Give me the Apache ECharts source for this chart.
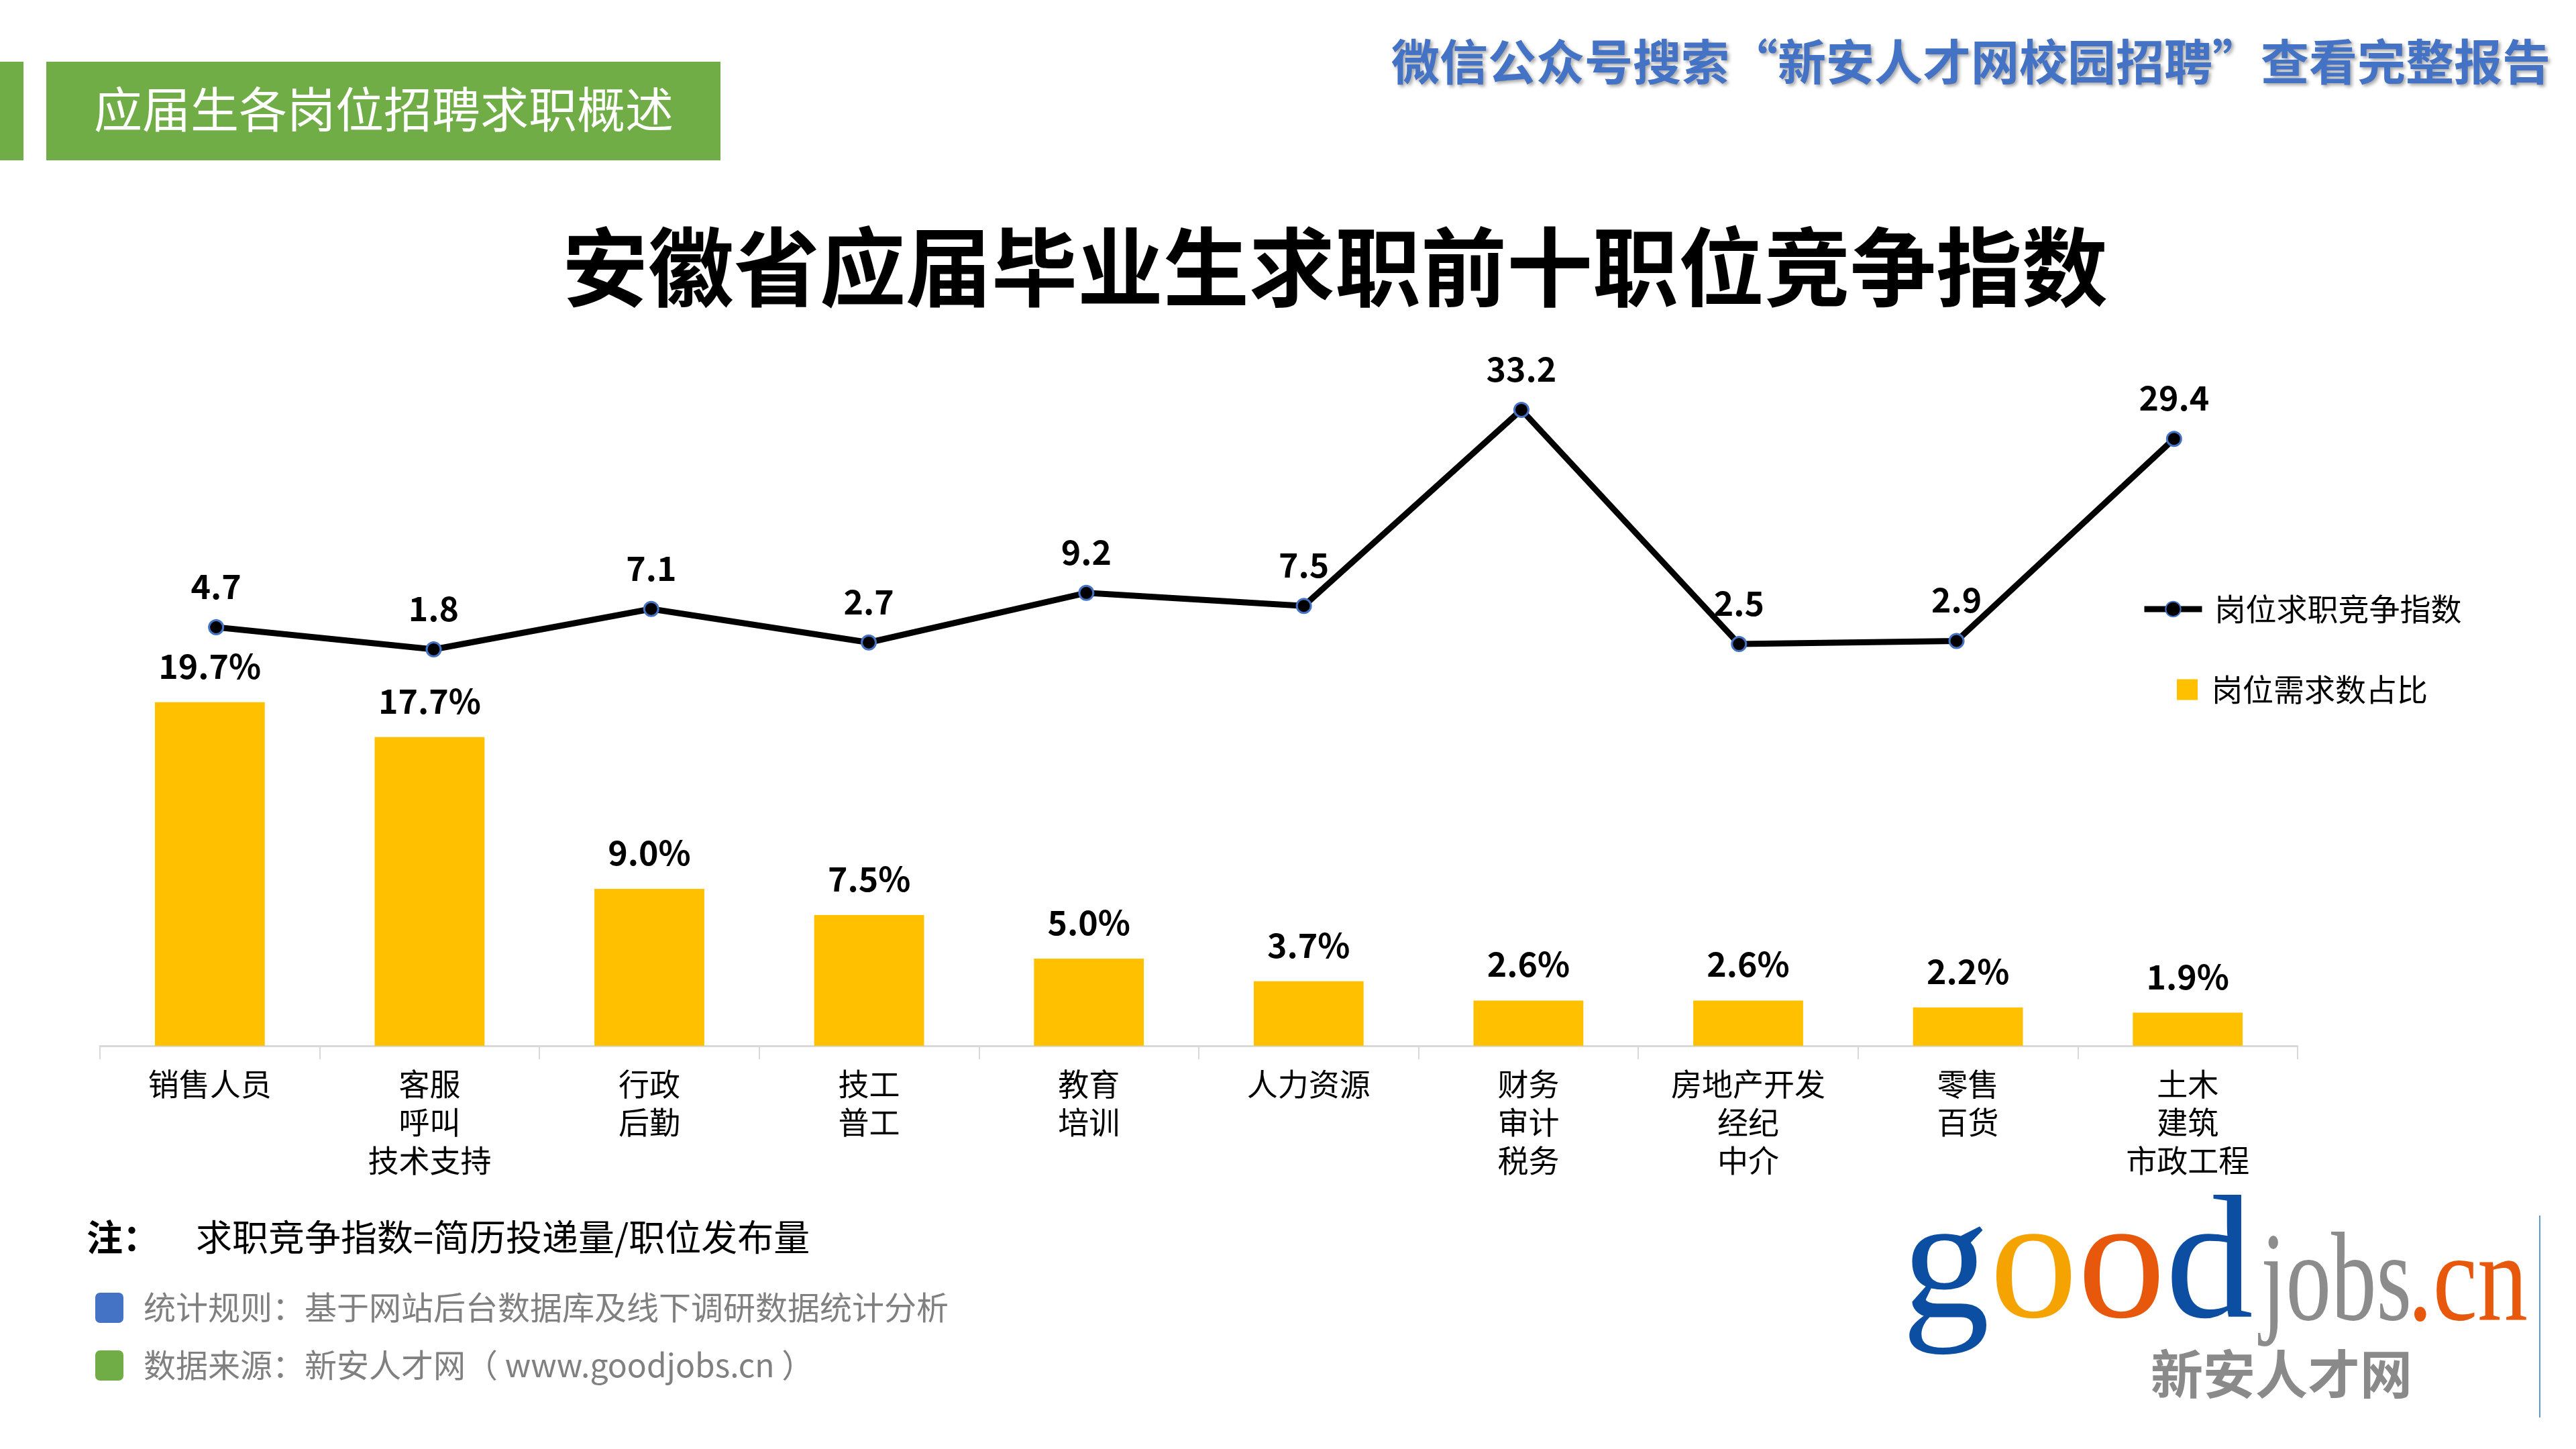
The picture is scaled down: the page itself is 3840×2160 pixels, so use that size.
<!DOCTYPE html>
<html>
<head>
<meta charset="utf-8">
<script src="https://cdn.jsdelivr.net/npm/echarts@6/dist/echarts.min.js"></script>
<style>
html,body{margin:0;padding:0;background:#fff;}
#c{width:3840px;height:2160px;}
</style>
</head>
<body>
<div id="c"></div>
<script>
const categories = ['销售人员', '客服\n呼叫\n技术支持', '行政\n后勤', '技工\n普工', '教育\n培训', '人力资源', '财务\n审计\n税务', '房地产开发\n经纪\n中介', '零售\n百货', '土木\n建筑\n市政工程'];
const demandShare = [19.7, 17.7, 9.0, 7.5, 5.0, 3.7, 2.6, 2.6, 2.2, 1.9];
const competitionIndex = [4.7, 1.8, 7.1, 2.7, 9.2, 7.5, 33.2, 2.5, 2.9, 29.4];
const lineName = '岗位求职竞争指数';
const barName = '岗位需求数占比';

const FONT = '"Noto Sans CJK SC", "Noto Sans", sans-serif';
const chart = echarts.init(document.getElementById('c'), null, {renderer: 'canvas'});

const option = {
  backgroundColor: '#ffffff',
  animation: false,
  textStyle: {fontFamily: FONT},
  title: {
    text: '安徽省应届毕业生求职前十职位竞争指数',
    left: 1985,
    top: 329,
    textAlign: 'center',
    textStyle: {fontSize: 128, fontWeight: 'bold', color: '#000', fontFamily: FONT, lineHeight: 128}
  },
  legend: [
    {
      data: [lineName],
      orient: 'vertical',
      left: 3187,
      top: 878,
      itemWidth: 86,
      itemHeight: 28,
      lineStyle: {width: 9, color: '#000'},
      textStyle: {fontSize: 46, color: '#000', lineHeight: 50, padding: [0, 0, 0, 14]}
    },
    {
      data: [{name: barName, icon: 'rect'}],
      orient: 'vertical',
      left: 3240,
      top: 998,
      itemWidth: 31,
      itemHeight: 31,
      textStyle: {fontSize: 46, color: '#000', lineHeight: 50, padding: [0, 0, 0, 16]}
    }
  ],
  grid: [
    {left: 149, right: 415, top: 559, bottom: 601, containLabel: false},
    {left: 160, right: 437, top: 559, bottom: 601, containLabel: false}
  ],
  xAxis: [
    {
      type: 'category',
      gridIndex: 0,
      data: categories,
      axisLine: {lineStyle: {color: '#d9d9d9', width: 3}},
      axisTick: {show: true, length: 20, lineStyle: {color: '#d9d9d9', width: 2}},
      axisLabel: {interval: 0, fontSize: 46, color: '#000', lineHeight: 57, margin: 28, fontFamily: FONT}
    },
    {type: 'category', gridIndex: 1, data: categories, show: false}
  ],
  yAxis: [
    {type: 'value', gridIndex: 0, min: 0, max: 38.46, show: false, splitLine: {show: false}},
    {type: 'value', gridIndex: 1, min: -50.18, max: 37.77, show: false, splitLine: {show: false}}
  ],
  series: [
    {
      name: barName,
      type: 'bar',
      xAxisIndex: 0,
      yAxisIndex: 0,
      data: demandShare,
      barWidth: '50%',
      itemStyle: {color: '#FFC000'},
      label: {
        show: true, position: 'top', distance: 29,
        formatter: p => p.value.toFixed(1) + '%',
        fontSize: 50, fontWeight: 'bold', color: '#000', fontFamily: FONT
      },
      z: 2
    },
    {
      name: lineName,
      type: 'line',
      xAxisIndex: 1,
      yAxisIndex: 1,
      data: competitionIndex,
      symbol: 'circle',
      symbolSize: 21,
      lineStyle: {color: '#000', width: 9},
      itemStyle: {color: '#000', borderColor: '#4472C4', borderWidth: 3},
      label: {
        show: true, position: 'top', distance: 24,
        formatter: p => p.value.toFixed(1),
        fontSize: 50, fontWeight: 'bold', color: '#000', fontFamily: FONT
      },
      z: 3
    }
  ],
  graphic: [
    {type: 'rect', shape: {x: 0, y: 92, width: 35, height: 147}, style: {fill: '#70AD47'}},
    {type: 'rect', shape: {x: 69, y: 92, width: 1005, height: 147}, style: {fill: '#70AD47'}},
    {type: 'text', x: 140, y: 163, style: {text: '应届生各岗位招聘求职概述', fill: '#fff', font: '72px ' + FONT, verticalAlign: 'middle', align: 'left'}},
    {type: 'text', x: 3802, y: 92, style: {
      text: '微信公众号搜索“新安人才网校园招聘”查看完整报告', fill: '#4472C4',
      font: 'bold 72px ' + FONT, verticalAlign: 'middle', align: 'right',
      textShadowColor: 'rgba(0,0,0,0.35)', textShadowBlur: 5, textShadowOffsetX: 3, textShadowOffsetY: 3
    }},
    {type: 'text', x: 129, y: 1844, style: {text: '注：', fill: '#000', font: 'bold 54px ' + FONT, verticalAlign: 'middle', align: 'left'}},
    {type: 'text', x: 292, y: 1844, style: {text: '求职竞争指数=简历投递量/职位发布量', fill: '#000', font: '54px ' + FONT, verticalAlign: 'middle', align: 'left'}},
    {type: 'rect', shape: {x: 142, y: 1927, width: 42, height: 45, r: 7}, style: {fill: '#4472C4'}},
    {type: 'text', x: 214, y: 1949, style: {text: '统计规则：基于网站后台数据库及线下调研数据统计分析', fill: '#808080', font: '48px ' + FONT, verticalAlign: 'middle', align: 'left'}},
    {type: 'rect', shape: {x: 142, y: 2013, width: 42, height: 45, r: 7}, style: {fill: '#70AD47'}},
    {type: 'text', x: 214, y: 2035, style: {text: '数据来源：新安人才网（ www.goodjobs.cn ）', fill: '#808080', font: '48px ' + FONT, verticalAlign: 'middle', align: 'left'}},
    // logo
    {type: 'text', x: 2835, y: 1983 - 0.34 * 262, style: {
      text: '{b|g}{y|o}{r|o}{b|d}', font: '262px "Liberation Serif", serif', verticalAlign: 'middle', align: 'left',
      rich: {
        b: {fill: '#0B4EA2', font: '262px "Liberation Serif", serif'},
        y: {fill: '#F4A300', font: '262px "Liberation Serif", serif'},
        r: {fill: '#E8580C', font: '262px "Liberation Serif", serif'}
      }
    }},
    {type: 'text', x: 3370, y: 1982 - 0.34 * 135 * 1.4, scaleY: 1.4, style: {text: 'jobs', fill: '#8C8C8C', font: '135px "Liberation Serif", serif', verticalAlign: 'middle', align: 'left'}},
    {type: 'text', x: 3589, y: 1982 - 0.34 * 150 * 1.25, scaleY: 1.25, style: {text: '.cn', fill: '#E8580C', font: '150px "Liberation Serif", serif', verticalAlign: 'middle', align: 'left'}},
    {type: 'text', x: 3206, y: 2048, style: {text: '新安人才网', fill: '#8A8A8A', font: 'bold 78px ' + FONT, verticalAlign: 'middle', align: 'left'}},
    {type: 'line', shape: {x1: 3786, y1: 1812, x2: 3786, y2: 2113}, style: {stroke: '#5B9BD5', lineWidth: 2}}
  ]
};
chart.setOption(option);
</script>
</body>
</html>
